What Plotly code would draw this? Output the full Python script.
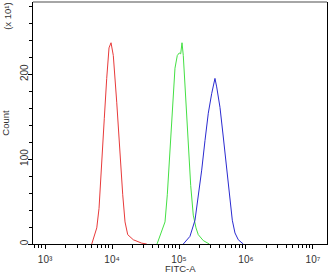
import plotly.graph_objects as go

# FITC-A intensity (x) and counts (/10) for each histogram
red_x = [4980, 5920, 6400, 7010, 7670, 8330, 9020, 9660, 10450, 11750, 13160, 14450, 15640, 17150, 20790, 27730, 32960]
red_y = [0, 19, 42, 89, 148, 195, 231, 237, 222, 167, 105, 58, 26, 11, 5, 1, 0]

green_x = [47000, 61800, 66900, 73400, 80500, 87100, 94300, 101000, 106000, 110900, 115900, 127100, 137600, 149500, 163400, 179400, 194100, 230600, 283400]
green_y = [0, 26, 58, 113, 167, 207, 222, 225, 224, 237, 222, 167, 116, 69, 34, 19, 11, 4, 0]

blue_x = [115900, 145800, 173300, 194100, 218200, 244500, 273800, 307400, 325000, 344400, 365400, 409300, 458500, 515000, 576800, 625100, 685500, 767700, 912400]
blue_y = [0, 9, 28, 56, 87, 122, 154, 177, 185, 195, 185, 161, 126, 87, 48, 28, 13, 5, 0]

x_tickvals = [1e3, 1e4, 1e5, 1e6, 1e7]
x_ticktext = ["10\u00b3", "10\u2074", "10\u2075", "10\u2076", "10\u2077"]
y_tickvals = [0, 100, 200]
y_ticktext = ["0", "100", "200"]

FONT = "Arial, Liberation Sans, sans-serif"

fig = go.Figure()
fig.add_trace(go.Scatter(x=red_x, y=red_y, mode="lines", line=dict(color="#e83a3a", width=1)))
fig.add_trace(go.Scatter(x=green_x, y=green_y, mode="lines", line=dict(color="#44e044", width=1)))
fig.add_trace(go.Scatter(x=blue_x, y=blue_y, mode="lines", line=dict(color="#2a2ad0", width=1)))

fig.update_layout(
    width=331, height=275,
    margin=dict(l=33, r=4, t=2, b=31, autoexpand=False),
    paper_bgcolor="white", plot_bgcolor="white",
    showlegend=False,
    font=dict(family=FONT, size=10, color="#333"),
    xaxis=dict(
        type="log", range=[2.82, 7.21], automargin=False,
        tickvals=x_tickvals, ticktext=x_ticktext,
        ticks="outside", ticklen=4, tickcolor="black", tickwidth=1,
        minor=dict(ticks="outside", ticklen=3, dtick="D1", tickcolor="black", showgrid=False),
        showline=True, linecolor="black", linewidth=1,
        showgrid=False, zeroline=False,
        tickfont=dict(size=10, color="#333"),
        ticklabelstandoff=2,
    ),
    yaxis=dict(
        range=[0, 285], automargin=False,
        tickvals=y_tickvals, ticktext=y_ticktext, tickangle=-90,
        ticks="outside", ticklen=4, tickcolor="black", tickwidth=1,
        minor=dict(ticks="outside", ticklen=3, dtick=20, tickcolor="black", showgrid=False),
        showline=True, linecolor="black", linewidth=1, mirror=True,
        showgrid=False, zeroline=False,
        tickfont=dict(size=10, color="#333"),
        ticklabelstandoff=-4,
        title=dict(text="Count", font=dict(size=9.5, color="#333"), standoff=8),
    ),
    shapes=[dict(type="line", xref="paper", yref="paper", x0=0, x1=1, y0=1, y1=1,
                 line=dict(color="#888", width=1.5))],
    annotations=[
        dict(text="(x 10\u00b9)", xref="paper", yref="paper",
             x=-33/294, y=1.005, xanchor="left", yanchor="top",
             textangle=-90, showarrow=False, font=dict(size=9.5, color="#333")),
        dict(text="FITC-A", xref="paper", yref="paper",
             x=(180 - 33) / 294, y=-31 / 242, xanchor="center", yanchor="bottom",
             borderpad=0, showarrow=False, font=dict(size=9.5, color="#333")),
    ],
)

fig.write_html("out.html")
